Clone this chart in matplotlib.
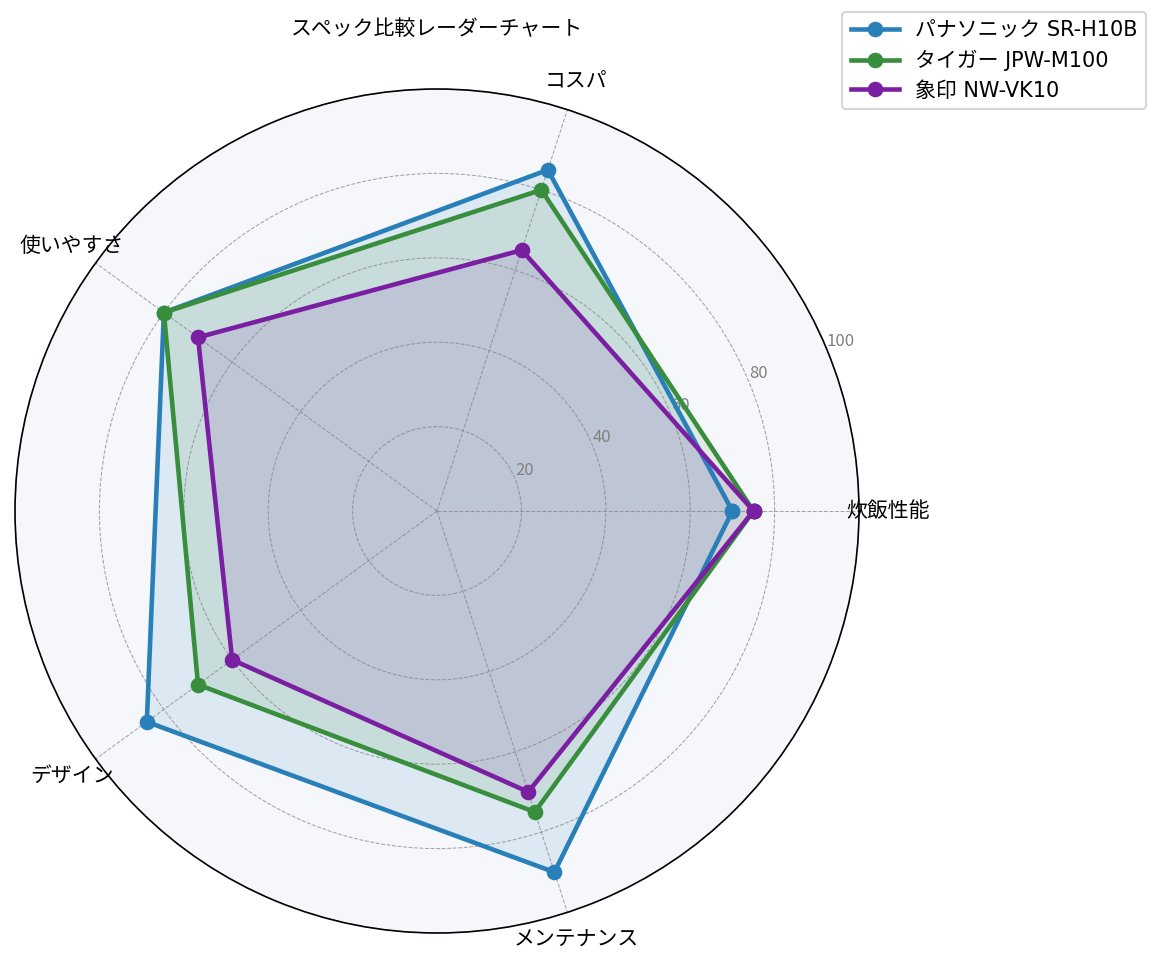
import matplotlib.pyplot as plt
import numpy as np

plt.rcParams['font.family'] = ['Noto Sans CJK JP', 'DejaVu Sans']

# data
categories = ['炊飯性能', 'コスパ', '使いやすさ', 'デザイン', 'メンテナンス']
models = ['パナソニック SR-H10B', 'タイガー JPW-M100', '象印 NW-VK10']
panasonic = [70, 85, 80, 85, 90]
tiger = [75, 80, 80, 70, 75]
zojirushi = [75, 65, 70, 60, 70]
colors = ['#2980b9', '#388e3c', '#7b1fa2']
r_ticks = [20, 40, 60, 80, 100]

n = len(categories)
angles = np.linspace(0, 2 * np.pi, n, endpoint=False).tolist()
angles += angles[:1]

fig = plt.figure(figsize=(1160 / 150, 966 / 150), dpi=150)
ax = fig.add_axes([15 / 1160, 33 / 966, 844 / 1160, 844 / 966], polar=True)
ax.set_facecolor('#f5f7fa')

for name, vals, c in zip(models, [panasonic, tiger, zojirushi], colors):
    v = vals + vals[:1]
    ax.plot(angles, v, color=c, linewidth=2.2, marker='o', markersize=6.5, label=name)
    ax.fill(angles, v, color=c, alpha=0.12)

ax.set_xticks(angles[:-1])
ax.set_xticklabels(categories, fontsize=10)
ax.set_ylim(0, 100)
ax.set_yticks(r_ticks)
ax.set_yticklabels([str(t) for t in r_ticks], fontsize=8, color='gray')
ax.grid(color='gray', linestyle='--', linewidth=0.5, alpha=0.7)
ax.spines['polar'].set_linewidth(0.8)

fig.text(437 / 1160, 1 - 29 / 966, 'スペック比較レーダーチャート', ha='center', va='center', fontsize=10)
fig.legend(loc='upper right', bbox_to_anchor=(1146 / 1160, 1 - 12 / 966), borderaxespad=0,
           handlelength=2.3, labelspacing=0.45,
           prop={'family': ['DejaVu Sans', 'Noto Sans CJK JP'], 'size': 10})

fig.savefig('out.png', dpi=150)
